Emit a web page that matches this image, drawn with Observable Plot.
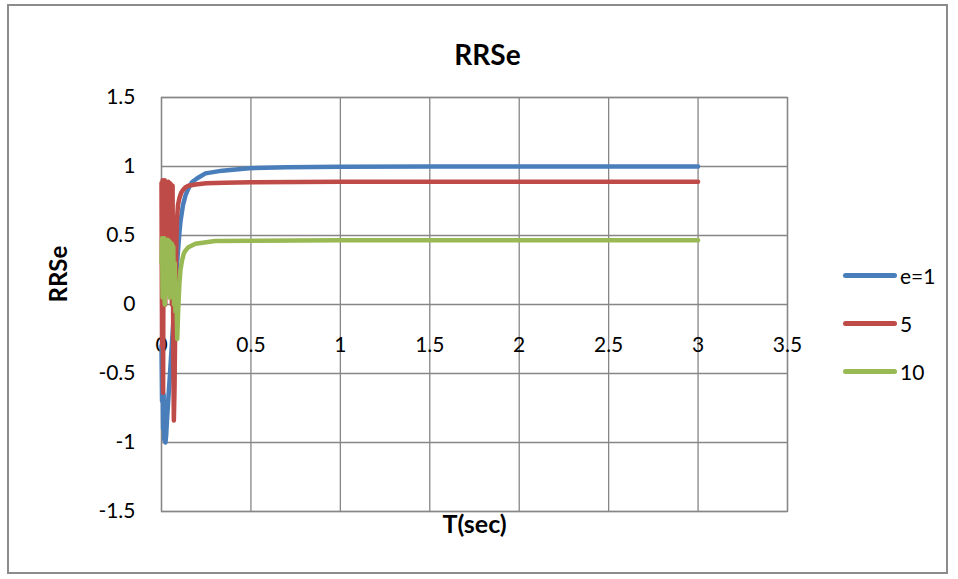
<!DOCTYPE html>
<html>
<head>
<meta charset="utf-8">
<script src="https://cdn.jsdelivr.net/npm/d3@7"></script>
<script src="https://cdn.jsdelivr.net/npm/@observablehq/plot@0.6"></script>
<style>
  html, body { margin: 0; padding: 0; background: #fff; }
  #wrap { position: relative; width: 958px; height: 579px; font-family: Lato, "Open Sans", sans-serif; }
  #border { position: absolute; left: 7px; top: 4px; width: 941px; height: 570px; border: 2px solid #8c8c8c; box-sizing: border-box; pointer-events: none; }
  #legend { position: absolute; left: 843px; top: 0; }
  .row { position: absolute; left: 0; display: flex; align-items: center; height: 24px; white-space: nowrap; }
  .sw { width: 54px; height: 5px; border-radius: 3px; }
  .lb { margin-left: 3px; font-size: 21px; color: #000; }
</style>
</head>
<body>
<div id="wrap"><div id="border"></div><div id="legend"></div></div>
<script>
const seriesNames = ["e=1", "5", "10"];
const seriesColors = ["#4A7EBB", "#BE4B48", "#98B954"];

const tBlue = [0, 0.003, 0.006, 0.009, 0.012, 0.015, 0.018, 0.022, 0.026, 0.03, 0.04, 0.05, 0.06, 0.07, 0.08, 0.09, 0.1, 0.106, 0.12, 0.134, 0.15, 0.17, 0.2, 0.246, 0.34, 0.49, 0.7, 1, 1.5, 2, 2.5, 3];
const vBlue = [-0.3, -0.7, -0.5, -0.9, -0.65, -0.98, -0.75, -1.0, -0.95, -0.85, -0.65, -0.45, -0.25, -0.05, 0.15, 0.35, 0.52, 0.6, 0.72, 0.79, 0.84, 0.886, 0.915, 0.95, 0.97, 0.988, 0.995, 0.998, 1.0, 1.0, 1.0, 1.0];

const tRed = [0, 0.003, 0.006, 0.009, 0.012, 0.015, 0.018, 0.021, 0.024, 0.027, 0.03, 0.034, 0.038, 0.042, 0.046, 0.05, 0.054, 0.058, 0.062, 0.066, 0.069, 0.073, 0.077, 0.081, 0.086, 0.092, 0.1, 0.11, 0.12, 0.134, 0.15, 0.19, 0.25, 0.35, 0.5, 1, 2, 3];
const vRed = [0.88, -0.3, 0.9, -0.64, 0.89, 0.2, 0.9, 0.0, 0.89, 0.3, 0.88, 0.1, 0.89, 0.4, 0.88, 0.2, 0.87, 0.0, 0.86, -0.4, -0.84, -0.6, -0.1, 0.3, 0.6, 0.72, 0.77, 0.81, 0.83, 0.85, 0.86, 0.87, 0.878, 0.883, 0.886, 0.89, 0.89, 0.89];

const tGreen = [0, 0.003, 0.006, 0.009, 0.012, 0.015, 0.018, 0.021, 0.024, 0.027, 0.03, 0.034, 0.038, 0.042, 0.046, 0.05, 0.054, 0.058, 0.062, 0.066, 0.07, 0.074, 0.078, 0.083, 0.088, 0.093, 0.1, 0.106, 0.115, 0.125, 0.134, 0.15, 0.19, 0.3, 0.5, 1, 3];
const vGreen = [0.3, 0.48, 0.05, 0.47, 0.15, 0.48, 0.0, 0.47, 0.2, 0.46, 0.08, 0.47, 0.25, 0.46, 0.05, 0.45, 0.2, 0.44, 0.1, 0.42, 0.0, 0.3, -0.05, 0.1, -0.25, -0.05, 0.15, 0.25, 0.32, 0.37, 0.39, 0.415, 0.44, 0.46, 0.462, 0.465, 0.465];

const xTicks = [0, 0.5, 1, 1.5, 2, 2.5, 3, 3.5];
const yTicks = [-1.5, -1, -0.5, 0, 0.5, 1, 1.5];

const data = [];
[[tBlue, vBlue], [tRed, vRed], [tGreen, vGreen]].forEach(([ts, vs], i) => {
  ts.forEach((t, j) => data.push({series: seriesNames[i], t, v: vs[j]}));
});

const grid = "#868686";
const chart = Plot.plot({
  width: 958, height: 579,
  marginLeft: 161, marginRight: 171, marginTop: 97, marginBottom: 68,
  style: {fontFamily: "Lato, 'Open Sans', sans-serif", background: "transparent"},
  x: {domain: [0, 3.5], axis: null},
  y: {domain: [-1.5, 1.5], axis: null},
  color: {domain: seriesNames, range: seriesColors},
  marks: [
    Plot.gridX(xTicks, {stroke: grid, strokeOpacity: 1, strokeWidth: 1.3}),
    Plot.gridY(yTicks, {stroke: grid, strokeOpacity: 1, strokeWidth: 1.3}),
    Plot.frame({stroke: grid, strokeWidth: 1.3}),
    Plot.axisY(yTicks, {tickSize: 0, tickPadding: 26, fontSize: 21, tickFormat: d => String(d), label: null}),
    Plot.text(xTicks, {x: d => d, y: 0, dy: 41, text: d => String(d), fontSize: 21}),
    Plot.line(data, {x: "t", y: "v", z: "series", stroke: "series", strokeWidth: 4.5, strokeLinecap: "round", strokeLinejoin: "round"}),
    Plot.text(["RRSe"], {frameAnchor: "top", dx: 13, dy: -52, fontSize: 28, fontWeight: "bold"}),
    Plot.text(["RRSe"], {frameAnchor: "left", dx: -102, dy: -2, rotate: -90, fontSize: 24, fontWeight: "bold"}),
    Plot.text(["T(sec)"], {frameAnchor: "bottom", dy: 21, fontSize: 25, fontWeight: "bold"})
  ]
});
document.getElementById("wrap").prepend(chart);

const legend = document.getElementById("legend");
const rowsY = [275, 323, 371];
seriesNames.forEach((name, i) => {
  const row = document.createElement("div");
  row.className = "row";
  row.style.top = (rowsY[i] - 12) + "px";
  row.innerHTML = `<div class="sw" style="background:${seriesColors[i]}"></div><span class="lb">${name}</span>`;
  legend.appendChild(row);
});
</script>
</body>
</html>
